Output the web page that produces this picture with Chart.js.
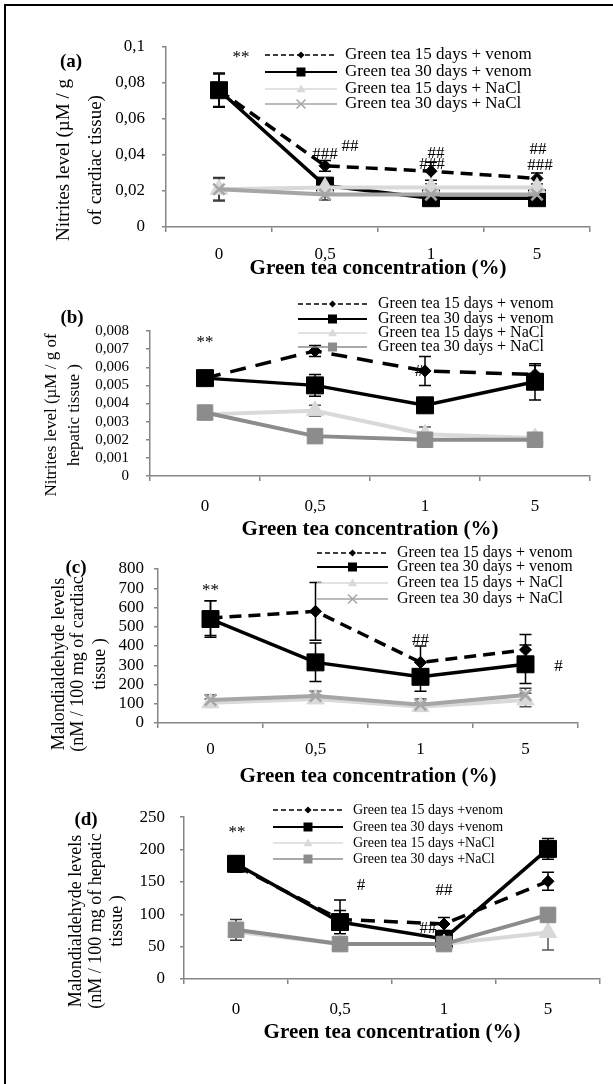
<!DOCTYPE html>
<html>
<head>
<meta charset="utf-8">
<script src="https://cdn.jsdelivr.net/npm/chart.js@4.4.1/dist/chart.umd.min.js"></script>
<style>
  html, body { margin: 0; padding: 0; background: #fff; }
  body { width: 613px; height: 1084px; position: relative; overflow: hidden; }
  #frame { position: absolute; left: 4px; top: 4px; width: 700px; height: 1200px;
           border-left: 2px solid #000; border-top: 2px solid #000; }
  canvas { position: absolute; left: 0; }
</style>
</head>
<body>
<div id="frame"></div>
<canvas id="pa" width="613" height="282" style="top:0px"></canvas>
<canvas id="pb" width="613" height="260" style="top:282px"></canvas>
<canvas id="pc" width="613" height="250" style="top:542px"></canvas>
<canvas id="pd" width="613" height="292" style="top:792px"></canvas>
<script>
// categories (green tea concentration, %)
const concentrations = ['0', '0,5', '1', '5'];
const xTitle = 'Green tea concentration (%)';
const seriesNames = ['Green tea 15 days + venom', 'Green tea 30 days + venom',
                     'Green tea 15 days + NaCl', 'Green tea 30 days + NaCl'];
const seriesNamesD = ['Green tea 15 days +venom', 'Green tea 30 days +venom',
                      'Green tea 15 days +NaCl', 'Green tea 30 days +NaCl'];

// (a) nitrites, cardiac tissue
const aVenom15 = [0.076, 0.034, 0.031, 0.027];
const aVenom30 = [0.076, 0.023, 0.016, 0.016];
const aNaCl15  = [0.021, 0.022, 0.022, 0.022];
const aNaCl30  = [0.021, 0.018, 0.018, 0.018];
const aVenom15Sd = [0.009, 0.003, 0.005, 0.003];
const aVenom30Sd = [0.0095, 0.003, 0.002, 0.002];
const aNaCl15Sd  = [0.006, 0.002, 0.002, 0.002];
const aNaCl30Sd  = [0.0065, 0.003, 0.002, 0.002];
const aTicks = ['0', '0,02', '0,04', '0,06', '0,08', '0,1'];

// (b) nitrites, hepatic tissue
const bVenom15 = [0.0054, 0.0069, 0.0058, 0.0056];
const bVenom30 = [0.0054, 0.0050, 0.0039, 0.0052];
const bNaCl15  = [0.0034, 0.0036, 0.0023, 0.0021];
const bNaCl30  = [0.0035, 0.0022, 0.0020, 0.0020];
const bVenom15Sd = [0.0003, 0.0003, 0.0008, 0.0005];
const bVenom30Sd = [0.0003, 0.0006, 0.0003, 0.0010];
const bNaCl15Sd  = [0.0002, 0.0003, 0.0004, 0.0002];
const bNaCl30Sd  = [0.0002, 0.0002, 0.0002, 0.0002];
const bTicks = ['0', '0,001', '0,002', '0,003', '0,004', '0,005', '0,006', '0,007', '0,008'];

// (c) malondialdehyde, cardiac tissue
const cVenom15 = [545, 580, 315, 380];
const cVenom30 = [540, 315, 240, 305];
const cNaCl15  = [105, 125, 85, 120];
const cNaCl30  = [120, 140, 95, 145];
const cVenom15Sd = [90, 150, 85, 80];
const cVenom30Sd = [95, 100, 75, 100];
const cNaCl15Sd  = [20, 20, 20, 35];
const cNaCl30Sd  = [25, 25, 30, 35];
const cTicks = ['0', '100', '200', '300', '400', '500', '600', '700', '800'];

// (d) malondialdehyde, hepatic tissue
const dVenom15 = [175, 92, 85, 151];
const dVenom30 = [178, 88, 62, 201];
const dNaCl15  = [73, 54, 54, 72];
const dNaCl30  = [76, 54, 54, 99];
const dVenom15Sd = [10, 30, 10, 14];
const dVenom30Sd = [12, 18, 8, 16];
const dNaCl15Sd  = [5, 4, 4, 27];
const dNaCl30Sd  = [16, 4, 4, 6];
const dTicks = ['0', '50', '100', '150', '200', '250'];

Chart.defaults.font.family = "'Liberation Serif', 'Times New Roman', serif";
Chart.defaults.color = '#000';
const axisGrey = '#868686';

function drawMarker(ctx, style, x, y, r, color) {
  ctx.save();
  ctx.setLineDash([]);
  ctx.fillStyle = color;
  ctx.strokeStyle = color;
  ctx.beginPath();
  if (style === 'rect') {
    ctx.rect(x - r, y - r, 2 * r, 2 * r);
    ctx.fill();
  } else if (style === 'rectRot') {
    ctx.moveTo(x, y - r); ctx.lineTo(x + r, y); ctx.lineTo(x, y + r); ctx.lineTo(x - r, y);
    ctx.closePath(); ctx.fill();
  } else if (style === 'triangle') {
    ctx.moveTo(x, y - r); ctx.lineTo(x + r, y + r * 0.7); ctx.lineTo(x - r, y + r * 0.7);
    ctx.closePath(); ctx.fill();
  } else {
    ctx.lineWidth = 1.5;
    ctx.moveTo(x - r, y - r); ctx.lineTo(x + r, y + r);
    ctx.moveTo(x + r, y - r); ctx.lineTo(x - r, y + r);
    ctx.stroke();
  }
  ctx.restore();
}

// error bars under the lines
const errorBars = {
  id: 'errorBars',
  beforeDatasetsDraw(chart) {
    const {ctx, scales: {x, y}} = chart;
    chart.data.datasets.forEach(d => {
      d.data.forEach((v, i) => {
        const px = x.getPixelForValue(i);
        const t = y.getPixelForValue(v + d.sd[i]);
        const b = y.getPixelForValue(v - d.sd[i]);
        ctx.save();
        ctx.strokeStyle = d.errColor;
        ctx.lineWidth = 1.5;
        ctx.beginPath();
        ctx.moveTo(px, t); ctx.lineTo(px, b);
        ctx.moveTo(px - 6, t); ctx.lineTo(px + 6, t);
        ctx.moveTo(px - 6, b); ctx.lineTo(px + 6, b);
        ctx.stroke();
        ctx.restore();
      });
    });
  }
};

// panel letter, y title, legend and significance marks
const decor = {
  id: 'decor',
  afterDraw(chart, args, p) {
    const {ctx, scales: {x, y}} = chart;
    const off = p.top;
    ctx.save();
    ctx.fillStyle = '#000';
    ctx.textBaseline = 'middle';
    ctx.textAlign = 'center';
    ctx.font = "bold 19px 'Liberation Serif', serif";
    ctx.fillText(p.letter.t, p.letter.x, p.letter.y - off);

    ctx.font = p.yTitle.size + "px 'Liberation Serif', serif";
    p.yTitle.lines.forEach((line, k) => {
      ctx.save();
      ctx.translate(p.yTitle.xs[k], p.yTitle.y - off);
      ctx.rotate(-Math.PI / 2);
      ctx.fillText(line, 0, 0);
      ctx.restore();
    });

    const lg = p.legend;
    chart.data.datasets.forEach((d, k) => {
      const ly = lg.rows[k] - off;
      ctx.save();
      ctx.strokeStyle = d.borderColor;
      ctx.lineWidth = k === 1 ? 2 : 1.5;
      ctx.setLineDash(k === 0 ? [5, 3] : []);
      ctx.beginPath();
      ctx.moveTo(lg.x0, ly); ctx.lineTo(lg.x1, ly);
      ctx.stroke();
      ctx.restore();
      const mx = (lg.x0 + lg.x1) / 2;
      drawMarker(ctx, d.pointStyle, mx, ly, k === 0 ? 3.5 : 4.5, d.borderColor);
      ctx.textAlign = 'left';
      ctx.font = lg.size + "px 'Liberation Serif', serif";
      ctx.fillText(d.label, lg.tx, ly);
    });

    ctx.textAlign = 'center';
    ctx.font = "17px 'Liberation Serif', serif";
    p.marks.forEach(m => {
      ctx.fillText(m.t, x.getPixelForValue(m.i) + m.dx, y.getPixelForValue(m.v));
    });
    ctx.restore();
  }
};

function buildPanel(id, p) {
  const ser = [
    {color: '#000', width: 3.5, dash: p.dash, point: 'rectRot', r: 6, order: 2, err: '#000'},
    {color: '#000', width: 3.5, dash: [], point: 'rect', r: 12, order: 3, err: '#000'},
    {color: '#d9d9d9', width: 4, dash: [], point: 'triangle', r: 10, order: 1, err: '#555'},
    {color: p.s4Color, width: 4, dash: [], point: p.s4Point, r: p.s4Point === 'rect' ? 11 : 8, order: 0, err: '#333'}
  ];
  const datasets = p.values.map((vals, k) => ({
    label: p.names[k],
    data: vals,
    sd: p.sds[k],
    errColor: ser[k].err,
    borderColor: ser[k].color,
    backgroundColor: ser[k].color,
    borderWidth: ser[k].width,
    borderDash: ser[k].dash,
    pointStyle: ser[k].point,
    pointRadius: ser[k].r,
    pointBackgroundColor: ser[k].color,
    pointBorderColor: ser[k].color,
    pointBorderWidth: ser[k].point === 'crossRot' ? 2.5 : 1,
    tension: 0,
    fill: false,
    clip: false,
    order: ser[k].order
  }));
  const xH = (p.titleY - p.bottom) + 21 * 1.2 / 2;
  const padBottom = p.h - (p.bottom - p.top) - xH;
  const xPad = (p.labelY - p.bottom) - 5 - 17 * 1.2 / 2;
  new Chart(document.getElementById(id), {
    type: 'line',
    data: {labels: concentrations, datasets},
    options: {
      responsive: false,
      animation: false,
      layout: {padding: {top: p.chartTop - p.top, right: 613 - p.right, bottom: padBottom, left: 0}},
      plugins: {legend: {display: false}, tooltip: {enabled: false}, decor: p},
      scales: {
        x: {
          type: 'category',
          offset: true,
          grid: {offset: true, drawOnChartArea: false, drawTicks: true, tickLength: 5, color: axisGrey, lineWidth: 1.5},
          border: {color: axisGrey, width: 1.5},
          ticks: {font: {size: 17}, color: '#000', padding: xPad, maxRotation: 0, autoSkip: false},
          title: {display: true, text: xTitle, font: {size: 21, weight: 'bold'}, color: '#000', padding: 0},
          afterFit: s => { s.height = xH; }
        },
        y: {
          min: 0,
          max: p.max,
          ticks: {stepSize: p.step, font: {size: p.yTickSize}, color: '#000', padding: p.yPad,
                  autoSkip: false, callback: v => p.ticks[Math.round(v / p.step)]},
          grid: {drawOnChartArea: false, tickLength: 4, color: axisGrey, lineWidth: 1.5},
          border: {color: axisGrey, width: 1.5},
          afterFit: s => { s.width = p.left; }
        }
      }
    },
    plugins: [errorBars, decor]
  });
}

buildPanel('pa', {
  top: 0, h: 282, left: 166, right: 590, chartTop: 47, bottom: 227, labelY: 255, titleY: 269,
  max: 0.1, step: 0.02, ticks: aTicks, yTickSize: 17, yPad: 17,
  values: [aVenom15, aVenom30, aNaCl15, aNaCl30],
  sds: [aVenom15Sd, aVenom30Sd, aNaCl15Sd, aNaCl30Sd],
  names: seriesNames, dash: [12, 7], s4Point: 'crossRot', s4Color: '#a6a6a6',
  letter: {t: '(a)', x: 71, y: 62},
  yTitle: {lines: ['Nitrites level (µM / g', 'of cardiac tissue)'], xs: [64, 96], y: 160, size: 19},
  legend: {x0: 265, x1: 337, tx: 345, rows: [55, 72, 89, 104], size: 17},
  marks: [{i: 0, dx: 22, v: 0.094, t: '**'}, {i: 1, dx: 0, v: 0.040, t: '###'},
          {i: 1, dx: 25, v: 0.0445, t: '##'}, {i: 2, dx: 5, v: 0.041, t: '##'},
          {i: 2, dx: 1, v: 0.0345, t: '###'}, {i: 3, dx: 1, v: 0.043, t: '##'},
          {i: 3, dx: 3, v: 0.034, t: '###'}]
});

buildPanel('pb', {
  top: 282, h: 260, left: 150, right: 590, chartTop: 331, bottom: 476, labelY: 507, titleY: 530,
  max: 0.008, step: 0.001, ticks: bTicks, yTickSize: 15, yPad: 17,
  values: [bVenom15, bVenom30, bNaCl15, bNaCl30],
  sds: [bVenom15Sd, bVenom30Sd, bNaCl15Sd, bNaCl30Sd],
  names: seriesNames, dash: [16, 10], s4Point: 'rect', s4Color: '#8c8c8c',
  letter: {t: '(b)', x: 72, y: 318},
  yTitle: {lines: ['Nitrites level (µM / g of', 'hepatic tissue )'], xs: [52, 75], y: 415, size: 17},
  legend: {x0: 298, x1: 367, tx: 378, rows: [304, 319, 333, 347], size: 16},
  marks: [{i: 0, dx: 0, v: 0.00735, t: '**'}, {i: 2, dx: -6, v: 0.00575, t: '#'}]
});

buildPanel('pc', {
  top: 542, h: 250, left: 158, right: 578, chartTop: 569, bottom: 723, labelY: 750, titleY: 777,
  max: 800, step: 100, ticks: cTicks, yTickSize: 17, yPad: 10,
  values: [cVenom15, cVenom30, cNaCl15, cNaCl30],
  sds: [cVenom15Sd, cVenom30Sd, cNaCl15Sd, cNaCl30Sd],
  names: seriesNames, dash: [12, 7], s4Point: 'crossRot', s4Color: '#a6a6a6',
  letter: {t: '(c)', x: 76, y: 568},
  yTitle: {lines: ['Malondialdehyde levels', '(nM / 100 mg of cardiac', 'tissue )'], xs: [59, 78, 100], y: 664, size: 18},
  legend: {x0: 317, x1: 388, tx: 397, rows: [553, 567, 583, 599], size: 16},
  marks: [{i: 0, dx: 0, v: 690, t: '**'}, {i: 2, dx: 0, v: 431, t: '##'}, {i: 3, dx: 33, v: 291, t: '#'}]
});

buildPanel('pd', {
  top: 792, h: 292, left: 184, right: 606, chartTop: 813, bottom: 979, labelY: 1010, titleY: 1033,
  max: 250, step: 50, ticks: dTicks, yTickSize: 17, yPad: 15,
  values: [dVenom15, dVenom30, dNaCl15, dNaCl30],
  sds: [dVenom15Sd, dVenom30Sd, dNaCl15Sd, dNaCl30Sd],
  names: seriesNamesD, dash: [14, 9], s4Point: 'rect', s4Color: '#8c8c8c',
  letter: {t: '(d)', x: 86, y: 820},
  yTitle: {lines: ['Malondialdehyde levels', '(nM / 100 mg of hepatic', 'tissue )'], xs: [76, 96, 117], y: 921, size: 18},
  legend: {x0: 273, x1: 343, tx: 353, rows: [810, 827, 843, 859], size: 14},
  marks: [{i: 0, dx: 1, v: 227, t: '**'}, {i: 1, dx: 21, v: 145, t: '#'},
          {i: 2, dx: 0, v: 137, t: '##'}, {i: 2, dx: -16, v: 78, t: '##'}]
});
</script>
</body>
</html>
